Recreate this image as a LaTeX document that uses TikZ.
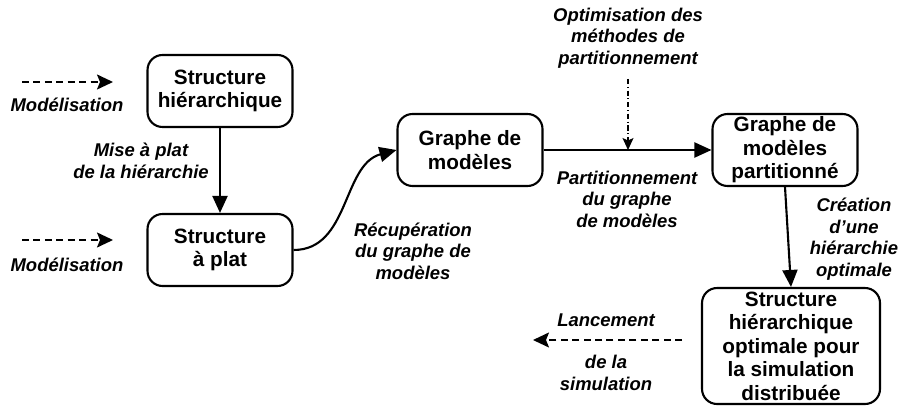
\documentclass[tikz,border=0pt]{standalone}
\usepackage{fontspec}
\setmainfont{Liberation Sans}
\usetikzlibrary{arrows.meta, positioning}

\begin{document}
\begin{tikzpicture}[
x=0.02cm, y=-0.02cm,
box/.style={rectangle, rounded corners=3mm, draw=black, line width=1.2pt, align=center, minimum width=2.9cm, minimum height=1.44cm, inner sep=1pt, font=\fontsize{11.8}{13.4}\selectfont\bfseries},
lbl/.style={align=center, inner sep=1pt, font=\fontsize{10.5}{12.2}\selectfont\bfseries\itshape},
line/.style={-{Triangle[length=3.4mm, width=3mm]}, line width=1.2pt},
dline/.style={-{Stealth[length=3.2mm, width=3mm, inset=0.6mm]}, line width=1pt, dash pattern=on 4pt off 2.5pt},
ddline/.style={-{Stealth[length=2.4mm, width=2.2mm, inset=0.5mm]}, line width=0.6pt, dash pattern=on 3pt off 1.5pt on 0.6pt off 1.5pt}
]
\useasboundingbox (0,0) rectangle (901,405);

\node[box] (hier) at (220,91) {Structure\\hiérarchique};
\node[box] (plat) at (220,250) {Structure\\à plat};
\node[box] (graphe) at (470,150) {Graphe de\\modèles};
\node[box] (part) at (785,150) {Graphe de\\modèles\\partitionné};
\node[box, minimum width=3.56cm, minimum height=2.32cm] (optim) at (791,346) {Structure\\hiérarchique\\optimale pour\\la simulation\\distribuée};

% modelisation
\coordinate (modAs) at (22,82);
\coordinate (modAe) at (113,82);
\coordinate (modBs) at (22,240);
\coordinate (modBe) at (113,240);
\node[lbl] (modA) at (67,105) {Modélisation};
\node[lbl] (modB) at (67,265) {Modélisation};
\draw[dline] (modAs) -- (modAe);
\draw[dline] (modBs) -- (modBe);

% labels
\node[lbl] (aplatir) at (141,161) {Mise à plat\\de la hiérarchie};
\node[lbl] (recup) at (413,251) {Récupération\\du graphe de\\modèles};
\node[lbl] (partit) at (627,199) {Partitionnement\\du graphe\\de modèles};
\node[lbl] (opt) at (628,38) {Optimisation des\\méthodes de\\partitionnement};
\node[lbl] (creation) at (854,239) {Création\\d'une\\hiérarchie\\optimale};
\node[lbl] (lance) at (606,320) {Lancement};
\node[lbl] (simu) at (606,373) {de la\\simulation};

% connecteurs
\draw[line] (hier) -- (plat);
\draw[line] (plat.east) to[out=0, in=195] (graphe.west);
\draw[line] (graphe) -- (part);
\draw[ddline] ([yshift=-5pt]opt.south) -- (opt.south |- graphe.east);
\draw[line] (part.south) -- (optim.north);
\coordinate (lanS) at (682,340);
\coordinate (lanE) at (533,340);
\draw[dline] (lanS) -- (lanE);
\end{tikzpicture}
\end{document}
